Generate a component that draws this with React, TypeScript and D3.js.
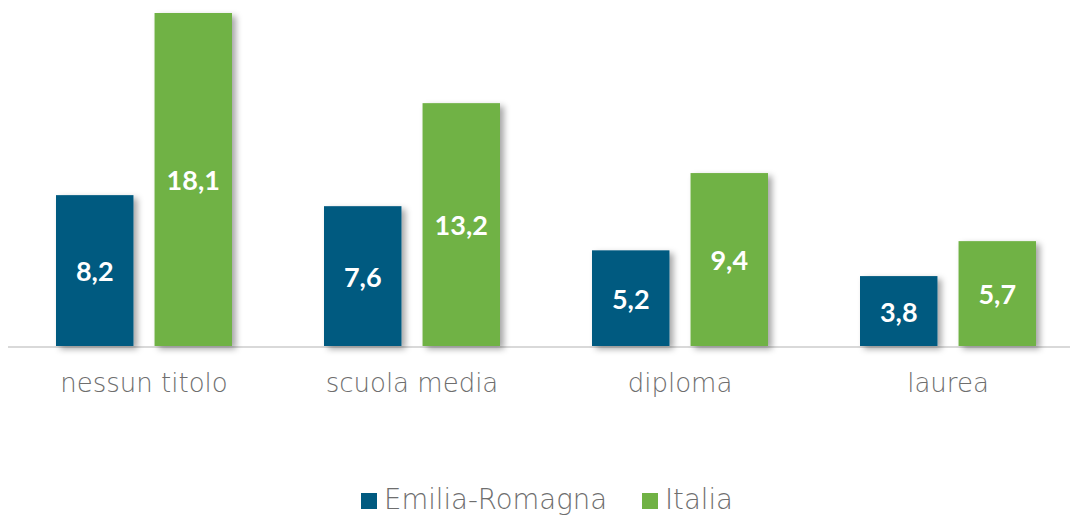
import React from "react";
import * as d3 from "d3";

const categories = ["nessun titolo", "scuola media", "diploma", "laurea"];
const seriesNames = ["Emilia-Romagna", "Italia"];
const emiliaValues = [8.2, 7.6, 5.2, 3.8];
const italiaValues = [18.1, 13.2, 9.4, 5.7];
const colors = ["#005A80", "#70B244"];

const W = 1070;
const H = 515;
const baseline = 346;
const topY = 13;

export default function App() {
  const x0 = d3.scaleBand<string>().domain(categories).range([10, 1082]).paddingInner(0).paddingOuter(0);
  const x1 = d3.scaleBand<string>().domain(seriesNames).range([46, 222]).paddingInner(0.214);
  const y = d3.scaleLinear().domain([0, 18.1]).range([baseline, topY]);
  const series = [emiliaValues, italiaValues];
  const fmt = (v: number) => v.toFixed(1).replace(".", ",");
  const valFont = "Lato, 'Open Sans', sans-serif";
  const catFont = "'DejaVu Sans', sans-serif";
  const textColor = "#6e6e6e";

  return (
    <div style={{ position: "absolute", left: 0, top: 0 }}>
      <svg width={W} height={H} style={{ display: "block" }}>
        <defs>
          <filter id="sh" x="-20%" y="-20%" width="150%" height="150%">
            <feDropShadow dx="4" dy="3" stdDeviation="3" floodColor="#000" floodOpacity="0.35" />
          </filter>
        </defs>
        <rect width={W} height={H} fill="#fff" />
        <line x1={8} x2={W} y1={baseline + 1} y2={baseline + 1} stroke="#d9d9d9" strokeWidth={2} />
        {categories.map((c, i) => (
          <g key={c} transform={`translate(${x0(c)},0)`}>
            {series.map((vals, s) => {
              const bx = x1(seriesNames[s])!;
              const by = y(vals[i]);
              const bh = baseline - by;
              return (
                <g key={s}>
                  <rect x={bx} y={by} width={x1.bandwidth()} height={bh} fill={colors[s]} filter="url(#sh)" />
                  <text
                    x={bx + x1.bandwidth() / 2}
                    y={by + bh / 2}
                    textAnchor="middle"
                    dominantBaseline="central"
                    fill="#fff"
                    fontFamily={valFont}
                    fontWeight="bold"
                    fontSize={27}
                  >
                    {fmt(vals[i])}
                  </text>
                </g>
              );
            })}
            <text
              x={x0.bandwidth() / 2}
              y={392}
              textAnchor="middle"
              fill={textColor}
              fontFamily={catFont}
              fontWeight={200}
              fontSize={26}
            >
              {c}
            </text>
          </g>
        ))}
        <g>
          <rect x={361} y={493} width={16} height={16} fill={colors[0]} />
          <text x={384} y={509} fill={textColor} fontFamily={catFont} fontWeight={200} fontSize={27.5}>
            {seriesNames[0]}
          </text>
          <rect x={642} y={493} width={16} height={16} fill={colors[1]} />
          <text x={665} y={509} fill={textColor} fontFamily={catFont} fontWeight={200} fontSize={27.5}>
            {seriesNames[1]}
          </text>
        </g>
      </svg>
    </div>
  );
}
